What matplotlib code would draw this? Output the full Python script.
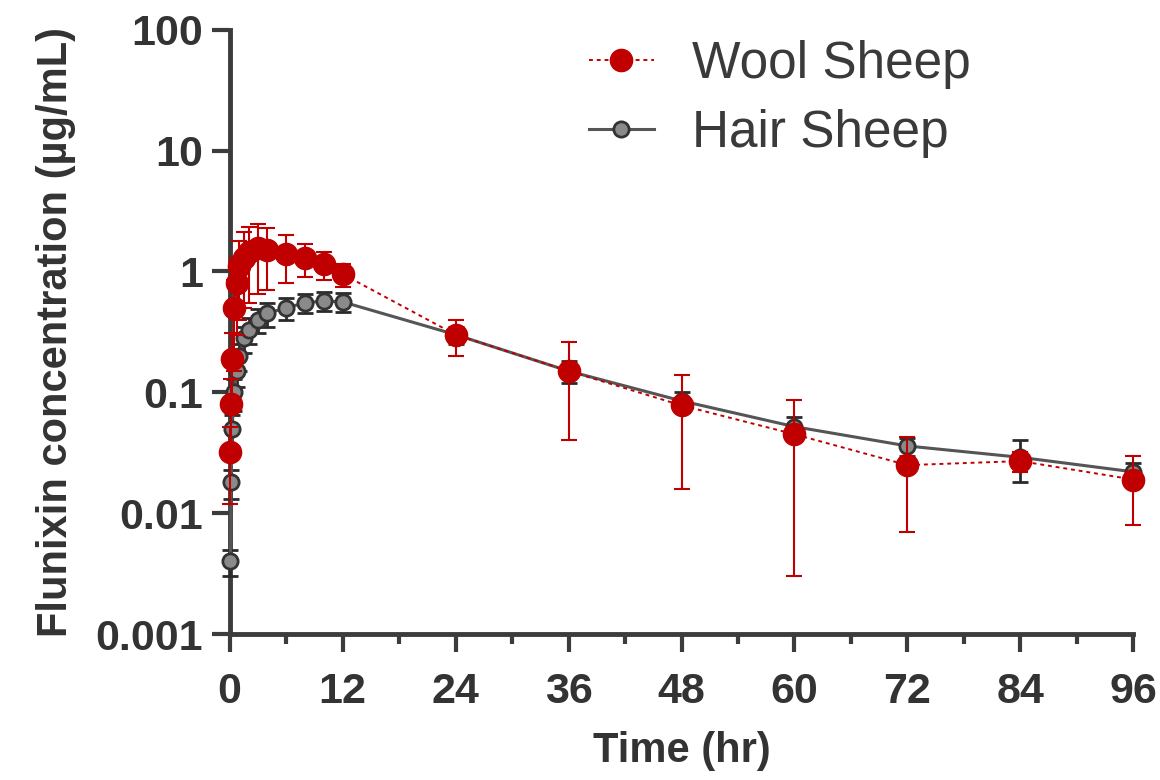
import matplotlib
matplotlib.use("Agg")
import matplotlib.pyplot as plt
from matplotlib.lines import Line2D
from matplotlib.ticker import FixedLocator, NullFormatter, NullLocator

# ---- data ----
time_h = [0.083, 0.167, 0.25, 0.5, 0.75, 1, 1.5, 2, 3, 4, 6, 8, 10, 12,
          24, 36, 48, 60, 72, 84, 96]

wool_mean = [0.032, 0.08, 0.19, 0.5, 0.8, 1.1, 1.3, 1.45, 1.55, 1.5, 1.4, 1.3, 1.15, 0.95,
             0.30, 0.15, 0.078, 0.045, 0.025, 0.027, 0.019]
wool_sd = [0.02, 0.05, 0.12, 0.35, 0.5, 0.7, 0.8, 0.9, 0.9, 0.8, 0.6, 0.4, 0.3, 0.2,
           0.10, 0.11, 0.062, 0.042, 0.018, 0.005, 0.011]

hair_mean = [0.004, 0.018, 0.05, 0.10, 0.15, 0.20, 0.28, 0.33, 0.40, 0.45, 0.50, 0.55, 0.57, 0.56,
             0.30, 0.15, 0.085, 0.052, 0.036, 0.029, 0.022]
hair_sd = [0.001, 0.005, 0.015, 0.03, 0.04, 0.05, 0.07, 0.08, 0.09, 0.1, 0.1, 0.1, 0.1, 0.1,
           0.05, 0.03, 0.015, 0.01, 0.006, 0.011, 0.004]

x_ticks = [0, 12, 24, 36, 48, 60, 72, 84, 96]
x_minor = [6, 18, 30, 42, 54, 66, 78, 90]
y_ticks = [0.001, 0.01, 0.1, 1, 10, 100]
y_tick_labels = ["0.001", "0.01", "0.1", "1", "10", "100"]

series_names = ["Wool Sheep", "Hair Sheep"]

# ---- style ----
plt.rcParams['font.family'] = ['Liberation Sans', 'DejaVu Sans']
red = '#c00000'
axis_col = '#3c3c3c'
text_col = '#333333'

fig = plt.figure(figsize=(11.6, 7.8), dpi=100)
ax = fig.add_axes([0.198, 0.187, 0.779, 0.775])

hair_style = dict(color='#555555', lw=2.2, ls='-', marker='o', ms=11,
                  mfc='#8a8a8a', mec='#333333', mew=2)
wool_style = dict(color=red, lw=1.4, ls=(0, (2, 2)), marker='o', ms=16,
                  mfc=red, mec=red)

ax.errorbar(time_h, hair_mean, yerr=hair_sd, ecolor='#2a2a2a', elinewidth=2,
            capsize=6, capthick=2, clip_on=False, zorder=3, **hair_style)
ax.errorbar(time_h, wool_mean, yerr=wool_sd, ecolor=red, elinewidth=1.5,
            capsize=6, capthick=1.5, clip_on=False, zorder=4, **wool_style)

ax.set_yscale('log')
ax.set_xlim(0, 96)
ax.set_ylim(0.001, 100)

ax.xaxis.set_major_locator(FixedLocator(x_ticks))
ax.xaxis.set_minor_locator(FixedLocator(x_minor))
ax.set_xticklabels([str(t) for t in x_ticks])
ax.yaxis.set_major_locator(FixedLocator(y_ticks))
ax.yaxis.set_minor_locator(NullLocator())
ax.yaxis.set_minor_formatter(NullFormatter())
ax.set_yticklabels(y_tick_labels)

for s in ['top', 'right']:
    ax.spines[s].set_visible(False)
for s in ['left', 'bottom']:
    ax.spines[s].set_color(axis_col)
    ax.spines[s].set_linewidth(3.5)

ax.tick_params(axis='both', which='major', length=13, width=3, color=axis_col,
               labelsize=31, labelcolor=text_col)
ax.tick_params(axis='x', which='major', pad=14)
ax.tick_params(axis='y', which='major', pad=6)
ax.tick_params(axis='x', which='minor', length=7, width=3, color=axis_col)
for lab in ax.get_xticklabels() + ax.get_yticklabels():
    lab.set_fontweight('bold')

ax.set_xlabel('Time (hr)', fontsize=30, fontweight='bold', color=text_col, labelpad=14)
ax.set_ylabel('Flunixin concentration (µg/mL)', fontsize=30, fontweight='bold',
              color=text_col, labelpad=14)

handles = [Line2D([], [], **wool_style), Line2D([], [], **hair_style)]
ax.legend(handles=handles, labels=series_names, loc='upper left',
          bbox_to_anchor=(0.346, 1.06), frameon=False, fontsize=37,
          handlelength=1.27, handletextpad=0.74, labelspacing=0.4,
          labelcolor='#3a3a3a')

fig.savefig('out.png', dpi=100)
